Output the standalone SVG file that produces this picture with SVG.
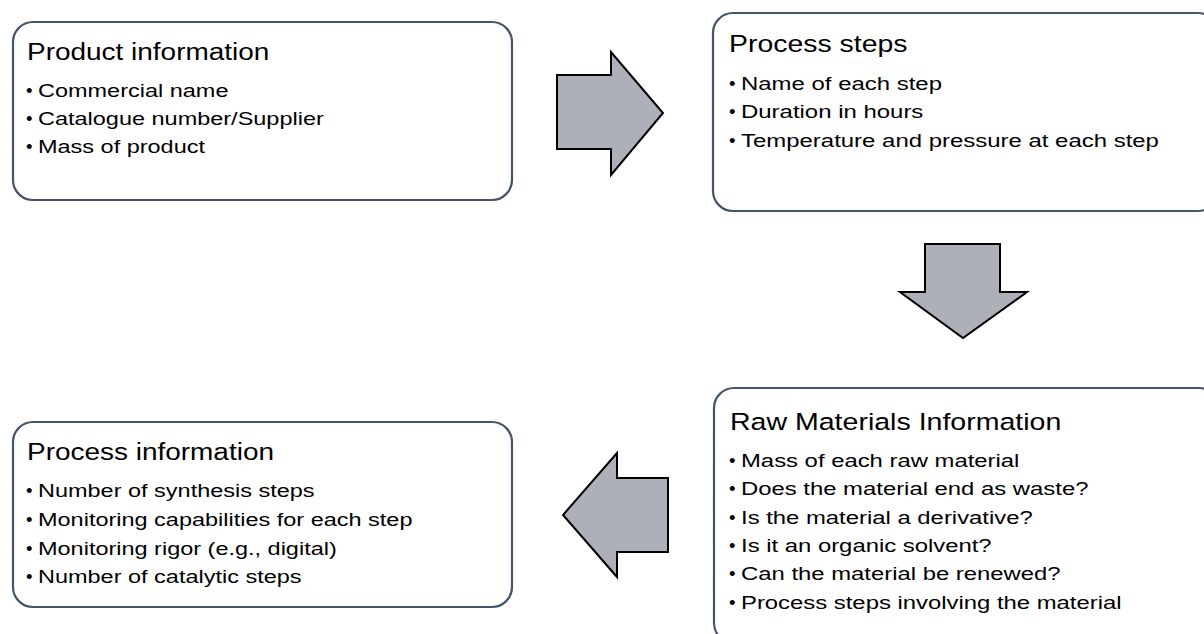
<svg xmlns="http://www.w3.org/2000/svg" width="1204" height="634" viewBox="0 0 1204 634">
<style>
.box{fill:#ffffff;stroke:#44546a;stroke-width:2.2}
.arrow{fill:#adb0b8;stroke:#000000;stroke-width:2;stroke-linejoin:miter}
.title{font-family:"Liberation Sans",Arial,sans-serif;font-size:23.5px;fill:#000}
.item{font-family:"Liberation Sans",Arial,sans-serif;font-size:18.5px;fill:#000}
</style>
<rect width="1204" height="634" fill="#ffffff"/>
<g id="product-information">
<rect class="box" x="13" y="22" width="499" height="178" rx="20"/>
<text class="title" transform="translate(27,60) scale(1.19,1)">Product information</text>
<text class="item" x="26" y="97">•</text>
<text class="item" x="26" y="125">•</text>
<text class="item" x="26" y="153">•</text>
<g transform="translate(38,0) scale(1.27,1)">
<text class="item" y="97">Commercial name</text>
<text class="item" y="125">Catalogue number/Supplier</text>
<text class="item" y="153">Mass of product</text>
</g>
</g>
<g id="process-steps">
<rect class="box" x="713" y="13" width="505" height="198" rx="20"/>
<text class="title" transform="translate(729,52) scale(1.21,1)">Process steps</text>
<text class="item" x="729" y="90">•</text>
<text class="item" x="729" y="118">•</text>
<text class="item" x="729" y="147">•</text>
<g transform="translate(741,0) scale(1.295,1)">
<text class="item" y="90">Name of each step</text>
<text class="item" y="118">Duration in hours</text>
<text class="item" y="147">Temperature and pressure at each step</text>
</g>
</g>
<g id="raw-materials-information">
<rect class="box" x="714" y="388" width="505" height="255" rx="20"/>
<text class="title" transform="translate(730,430) scale(1.215,1)">Raw Materials Information</text>
<text class="item" x="729" y="467">•</text>
<text class="item" x="729" y="495">•</text>
<text class="item" x="729" y="524">•</text>
<text class="item" x="729" y="552">•</text>
<text class="item" x="729" y="580">•</text>
<text class="item" x="729" y="609">•</text>
<g transform="translate(741,0) scale(1.29,1)">
<text class="item" y="467">Mass of each raw material</text>
<text class="item" y="495">Does the material end as waste?</text>
<text class="item" y="524">Is the material a derivative?</text>
<text class="item" y="552">Is it an organic solvent?</text>
<text class="item" y="580">Can the material be renewed?</text>
<text class="item" y="609">Process steps involving the material</text>
</g>
</g>
<g id="process-information">
<rect class="box" x="13" y="422" width="499" height="185" rx="20"/>
<text class="title" transform="translate(27,460) scale(1.19,1)">Process information</text>
<text class="item" x="26" y="497">•</text>
<text class="item" x="26" y="526">•</text>
<text class="item" x="26" y="555">•</text>
<text class="item" x="26" y="583">•</text>
<g transform="translate(38,0) scale(1.27,1)">
<text class="item" y="497">Number of synthesis steps</text>
<text class="item" y="526">Monitoring capabilities for each step</text>
<text class="item" y="555">Monitoring rigor (e.g., digital)</text>
<text class="item" y="583">Number of catalytic steps</text>
</g>
</g>
<g id="connectors">
<polygon class="arrow" points="557,75 611,75 611,52 663,113 611,175 611,149 557,149"/>
<polygon class="arrow" points="925,244 1000,244 1000,292 1027,292 963,338 900,292 925,292"/>
<polygon class="arrow" points="668,478 617,478 617,453 563,515 617,577 617,552 668,552"/>
</g>
</svg>
